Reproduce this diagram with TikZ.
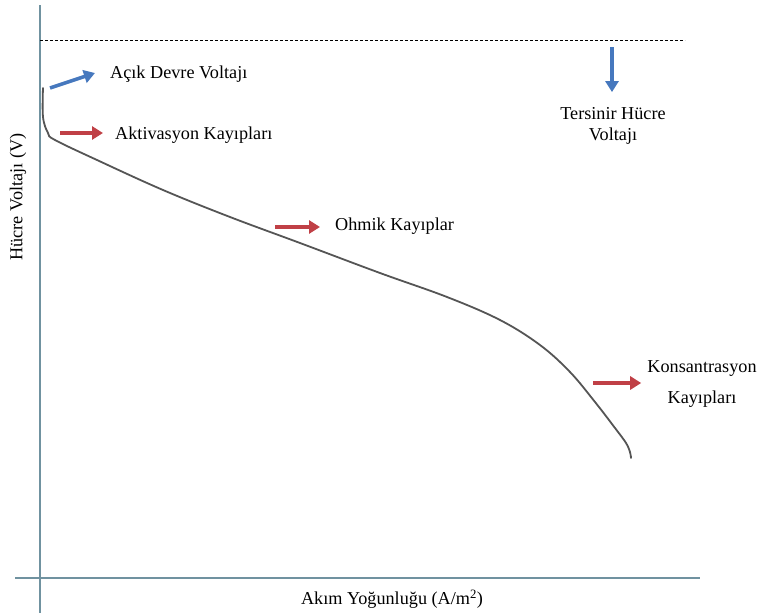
\documentclass[tikz,border=0pt]{standalone}
\usepackage{fontspec}
\setmainfont{Liberation Serif}
\newfontfamily\timesface{Liberation Serif}
\usetikzlibrary{arrows.meta,positioning}
\definecolor{axisblue}{RGB}{112,146,160}
\definecolor{lossred}{RGB}{192,64,70}
\definecolor{ocvblue}{RGB}{70,120,190}
\definecolor{curvegray}{RGB}{85,85,85}

\begin{document}
\begin{tikzpicture}[x=1pt, y=-1pt,
    lbl/.style={font=\timesface\fontsize{18.2}{21.5}\selectfont, inner sep=0pt},
    axisline/.style={axisblue, line width=1.5pt},
    bigarrow/.style={line width=3.5pt, -{Triangle[length=11pt,width=13pt]}}]
    \useasboundingbox (0,0) rectangle (768,613);

    % Axes
    \draw[axisline] (40,5) -- (40,613);
    \draw[axisline] (15,578) -- (700,578);
    \node[lbl] (xlabel) at (392,599) {Akım Yoğunluğu (A/m\textsuperscript{2})};
    \node[lbl, rotate=90] (ylabel) at (18,197) {Hücre Voltajı (V)};

    % Reversible voltage
    \draw[black, line width=0.8pt, dash pattern=on 3pt off 2pt] (40,40) -- (685,40);

    % Polarization curve
    \draw[curvegray, line width=1.8pt, line cap=round] plot[smooth, tension=0.6] coordinates {
        (43,88) (43,117) (48,133) (55,140) (97,160) (163,190) (230,217)
        (300,243) (380,273) (447,297) (500,320) (540,345) (570,372)
        (595,402) (615,428) (626,443) (630,452) (631,458)};

    % Labels
    \node[lbl, anchor=west] (ocv) at (110,74) {Açık Devre Voltajı};
    \node[lbl, anchor=west] (act) at (115,135) {Aktivasyon Kayıpları};
    \node[lbl, anchor=west] (ohm) at (335,226) {Ohmik Kayıplar};
    \node[lbl, align=center] (conc) at (702,384) {Konsantrasyon\\[10pt]Kayıpları};
    \node[lbl, align=center] (rev) at (613,126) {Tersinir Hücre\\Voltajı};

    % Arrows
    \coordinate (ocv tail) at (50,88);
    \coordinate (act tail) at (60,133);
    \coordinate (ohm tail) at (275,227);
    \coordinate (conc tail) at (593,383);
    \coordinate (rev tail) at (612,47);
    \path (conc.west |- conc tail) ++(-6,0) coordinate (conc head);
    \draw[bigarrow, ocvblue] (ocv tail) -- ([xshift=-15pt, yshift=1pt]ocv.west);
    \draw[bigarrow, lossred] (act tail) -- ([xshift=-12pt, yshift=2pt]act.west);
    \draw[bigarrow, lossred] (ohm tail) -- ([xshift=-15pt, yshift=-1pt]ohm.west);
    \draw[bigarrow, lossred] (conc tail) -- (conc head);
    \draw[bigarrow, ocvblue] (rev tail) -- ([yshift=15pt]rev.north -| rev tail);
\end{tikzpicture}
\end{document}
